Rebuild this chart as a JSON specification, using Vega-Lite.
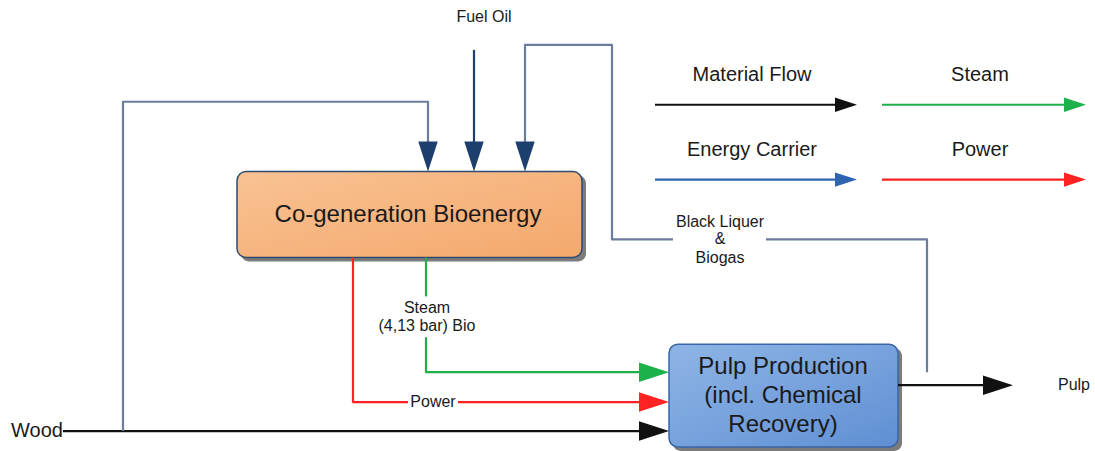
{
  "$schema": "https://vega.github.io/schema/vega-lite/v6.json",
  "width": 1095,
  "height": 451,
  "autosize": {"type": "fit", "contains": "padding"},
  "padding": 0,
  "background": "white",
  "config": {"view": {"stroke": null}},
  "datasets": {
    "boxes": [
      {"name": "cogen", "x": 237, "x2": 582, "y": 172, "y2": 258},
      {"name": "pulp", "x": 669, "x2": 898, "y": 345, "y2": 448}
    ],
    "lines": [
      {"path": "wood", "kind": "material", "o": 0, "x": 63, "y": 432},
      {"path": "wood", "kind": "material", "o": 1, "x": 655, "y": 432},
      {"path": "pulpout", "kind": "material", "o": 0, "x": 898, "y": 386},
      {"path": "pulpout", "kind": "material", "o": 1, "x": 1000, "y": 386},
      {"path": "wood2cogen", "kind": "connector", "o": 0, "x": 123, "y": 432},
      {"path": "wood2cogen", "kind": "connector", "o": 1, "x": 123, "y": 102},
      {"path": "wood2cogen", "kind": "connector", "o": 2, "x": 428, "y": 102},
      {"path": "wood2cogen", "kind": "connector", "o": 3, "x": 428, "y": 160},
      {"path": "fuel", "kind": "fuel", "o": 0, "x": 474, "y": 50},
      {"path": "fuel", "kind": "fuel", "o": 1, "x": 474, "y": 160},
      {"path": "bl1", "kind": "connector", "o": 0, "x": 525, "y": 160},
      {"path": "bl1", "kind": "connector", "o": 1, "x": 525, "y": 45},
      {"path": "bl1", "kind": "connector", "o": 2, "x": 612, "y": 45},
      {"path": "bl1", "kind": "connector", "o": 3, "x": 612, "y": 240},
      {"path": "bl1", "kind": "connector", "o": 4, "x": 673, "y": 240},
      {"path": "bl2", "kind": "connector", "o": 0, "x": 766, "y": 240},
      {"path": "bl2", "kind": "connector", "o": 1, "x": 927, "y": 240},
      {"path": "bl2", "kind": "connector", "o": 2, "x": 927, "y": 373},
      {"path": "steam1", "kind": "steam", "o": 0, "x": 426, "y": 258},
      {"path": "steam1", "kind": "steam", "o": 1, "x": 426, "y": 297},
      {"path": "steam2", "kind": "steam", "o": 0, "x": 426, "y": 338},
      {"path": "steam2", "kind": "steam", "o": 1, "x": 426, "y": 373},
      {"path": "steam2", "kind": "steam", "o": 2, "x": 655, "y": 373},
      {"path": "power1", "kind": "power", "o": 0, "x": 353, "y": 258},
      {"path": "power1", "kind": "power", "o": 1, "x": 353, "y": 403},
      {"path": "power1", "kind": "power", "o": 2, "x": 408, "y": 403},
      {"path": "power2", "kind": "power", "o": 0, "x": 458, "y": 403},
      {"path": "power2", "kind": "power", "o": 1, "x": 655, "y": 403},
      {"path": "lg_mat", "kind": "material", "o": 0, "x": 655, "y": 105},
      {"path": "lg_mat", "kind": "material", "o": 1, "x": 845, "y": 105},
      {"path": "lg_steam", "kind": "steam", "o": 0, "x": 882, "y": 105},
      {"path": "lg_steam", "kind": "steam", "o": 1, "x": 1075, "y": 105},
      {"path": "lg_energy", "kind": "energy", "o": 0, "x": 655, "y": 180},
      {"path": "lg_energy", "kind": "energy", "o": 1, "x": 845, "y": 180},
      {"path": "lg_power", "kind": "power", "o": 0, "x": 882, "y": 180},
      {"path": "lg_power", "kind": "power", "o": 1, "x": 1075, "y": 180}
    ],
    "arrows": [
      {"x": 428, "y": 172, "dir": "down", "kind": "fuel", "grp": "diagram"},
      {"x": 474, "y": 172, "dir": "down", "kind": "fuel", "grp": "diagram"},
      {"x": 525, "y": 172, "dir": "down", "kind": "fuel", "grp": "diagram"},
      {"x": 669, "y": 373, "dir": "right", "kind": "steam", "grp": "diagram"},
      {"x": 669, "y": 403, "dir": "right", "kind": "power", "grp": "diagram"},
      {"x": 669, "y": 432, "dir": "right", "kind": "material", "grp": "diagram"},
      {"x": 1013, "y": 386, "dir": "right", "kind": "material", "grp": "diagram"},
      {"x": 857, "y": 105, "dir": "right", "kind": "material", "grp": "legend"},
      {"x": 1086, "y": 105, "dir": "right", "kind": "steam", "grp": "legend"},
      {"x": 857, "y": 180, "dir": "right", "kind": "energy", "grp": "legend"},
      {"x": 1086, "y": 180, "dir": "right", "kind": "power", "grp": "legend"}
    ],
    "labels": [
      {"label": "Fuel Oil", "x": 484, "y": 17, "cls": "note"},
      {"label": "Material Flow", "x": 752, "y": 75, "cls": "legend"},
      {"label": "Steam", "x": 980, "y": 75, "cls": "legend"},
      {"label": "Energy Carrier", "x": 752, "y": 150, "cls": "legend"},
      {"label": "Power", "x": 980, "y": 150, "cls": "legend"},
      {"label": "Black Liquer", "x": 720, "y": 222, "cls": "note"},
      {"label": "&", "x": 720, "y": 240, "cls": "note"},
      {"label": "Biogas", "x": 720, "y": 259, "cls": "note"},
      {"label": "Co-generation Bioenergy", "x": 408, "y": 215, "cls": "box"},
      {"label": "Steam", "x": 427, "y": 309, "cls": "note"},
      {"label": "(4,13 bar) Bio", "x": 427, "y": 327, "cls": "note"},
      {"label": "Power", "x": 433, "y": 403, "cls": "note"},
      {"label": "Pulp Production", "x": 783, "y": 368, "cls": "box"},
      {"label": "(incl. Chemical", "x": 783, "y": 397, "cls": "box"},
      {"label": "Recovery)", "x": 783, "y": 426, "cls": "box"},
      {"label": "Wood", "x": 37, "y": 432, "cls": "legend"},
      {"label": "Pulp", "x": 1074, "y": 386, "cls": "note"}
    ]
  },
  "encoding": {
    "x": {"field": "x", "type": "quantitative", "scale": {"domain": [0, 1095], "nice": false, "zero": false}, "axis": null},
    "y": {"field": "y", "type": "quantitative", "scale": {"domain": [0, 451], "nice": false, "zero": false, "reverse": true}, "axis": null}
  },
  "layer": [
    {
      "data": {"name": "boxes"},
      "transform": [{"calculate": "datum.x + 4", "as": "sx"}, {"calculate": "datum.x2 + 4", "as": "sx2"}, {"calculate": "datum.y + 4", "as": "sy"}, {"calculate": "datum.y2 + 4", "as": "sy2"}],
      "mark": {"type": "rect", "color": "#5a5a5a", "opacity": 0.8, "cornerRadius": 8},
      "encoding": {
        "x": {"field": "sx", "type": "quantitative"},
        "x2": {"field": "sx2"},
        "y": {"field": "sy", "type": "quantitative"},
        "y2": {"field": "sy2"}
      }
    },
    {
      "data": {"name": "boxes"},
      "transform": [{"filter": "datum.name === 'cogen'"}],
      "mark": {
        "type": "rect",
        "cornerRadius": 9,
        "stroke": "#2f4a6e",
        "strokeWidth": 1.5,
        "fill": {"gradient": "linear", "x1": 0, "y1": 0, "x2": 1, "y2": 1, "stops": [{"offset": 0, "color": "#f9c293"}, {"offset": 1, "color": "#f4a86c"}]}
      },
      "encoding": {"x2": {"field": "x2"}, "y2": {"field": "y2"}}
    },
    {
      "data": {"name": "boxes"},
      "transform": [{"filter": "datum.name === 'pulp'"}],
      "mark": {
        "type": "rect",
        "cornerRadius": 9,
        "stroke": "#3a66a8",
        "strokeWidth": 1.5,
        "fill": {"gradient": "linear", "x1": 0, "y1": 0, "x2": 1, "y2": 1, "stops": [{"offset": 0, "color": "#8fb5e6"}, {"offset": 1, "color": "#5f8fd3"}]}
      },
      "encoding": {"x2": {"field": "x2"}, "y2": {"field": "y2"}}
    },
    {
      "data": {"name": "lines"},
      "mark": {"type": "line", "strokeWidth": 2.2, "strokeJoin": "round"},
      "encoding": {
        "detail": {"field": "path"},
        "order": {"field": "o", "type": "quantitative"},
        "color": {"field": "kind", "type": "nominal", "legend": null,
          "scale": {"domain": ["material", "steam", "power", "energy", "connector", "fuel"], "range": ["#111111", "#1db14b", "#ff2222", "#2f64b0", "#6a7d9c", "#1d3f6e"]}}
      }
    },
    {
      "data": {"name": "arrows"},
      "mark": {"type": "point", "filled": true, "opacity": 1, "strokeWidth": 0},
      "encoding": {
        "shape": {"field": "dir", "type": "nominal", "legend": null,
          "scale": {"domain": ["right", "down"], "range": ["M-2,-0.65L0,0L-2,0.65Z", "M-0.65,-2L0,0L0.65,-2Z"]}},
        "size": {"field": "grp", "type": "nominal", "legend": null,
          "scale": {"type": "ordinal", "domain": ["diagram", "legend"], "range": [900, 484]}},
        "color": {"field": "kind", "type": "nominal", "legend": null}
      }
    },
    {
      "data": {"name": "labels"},
      "mark": {"type": "text", "font": "Liberation Sans", "baseline": "middle", "align": "center", "color": "#1a1a1a"},
      "encoding": {
        "text": {"field": "label"},
        "size": {"field": "cls", "type": "nominal", "legend": null,
          "scale": {"type": "ordinal", "domain": ["box", "legend", "note"], "range": [24, 20, 16]}}
      }
    }
  ],
  "resolve": {"scale": {"size": "independent"}}
}
